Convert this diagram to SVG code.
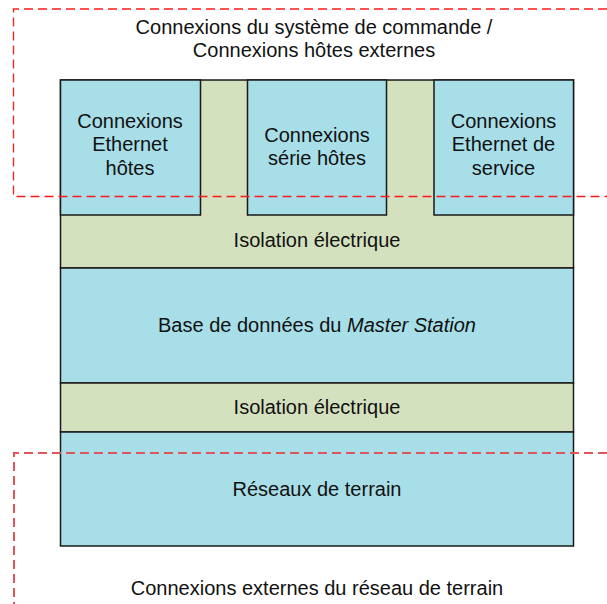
<svg xmlns="http://www.w3.org/2000/svg" width="607" height="604" viewBox="0 0 607 604">
<style>
text{font-family:"Liberation Sans",Arial,sans-serif;font-size:20px;fill:#111;text-anchor:middle}
.blue{fill:#A7DEE8;stroke:#1a1a1a;stroke-width:1.5}
.green{fill:#D4E1BE;stroke:#1a1a1a;stroke-width:1.5}
.dash1{fill:none;stroke:#FF1A1A;stroke-width:1.3;stroke-dasharray:9 5}
.dash2{fill:none;stroke:#E0555B;stroke-width:2;stroke-dasharray:9 5}
</style>
<rect width="607" height="604" fill="#fff"/>
<g id="green-bg"><rect class="green" x="60.5" y="80" width="513" height="188"/></g>
<g id="iso1"><text x="317" y="247">Isolation électrique</text></g>
<g id="host-eth"><rect class="blue" x="60.5" y="80" width="140" height="135"/>
<text x="130" y="128">Connexions</text><text x="130" y="151">Ethernet</text><text x="130" y="175">hôtes</text></g>
<g id="host-serial"><rect class="blue" x="247.5" y="80" width="139" height="135"/>
<text x="317" y="142">Connexions</text><text x="317" y="165">série hôtes</text></g>
<g id="service-eth"><rect class="blue" x="434" y="80" width="139.5" height="135"/>
<text x="503.5" y="128">Connexions</text><text x="503.5" y="151">Ethernet de</text><text x="503.5" y="175">service</text></g>
<g id="database"><rect class="blue" x="60.5" y="268" width="513" height="115"/>
<text x="317" y="332">Base de données du <tspan font-style="italic">Master Station</tspan></text></g>
<g id="iso2"><rect class="green" x="60.5" y="383" width="513" height="49"/>
<text x="317" y="414">Isolation électrique</text></g>
<g id="fieldbus"><rect class="blue" x="60.5" y="432" width="513" height="114"/>
<text x="317" y="496">Réseaux de terrain</text></g>
<g id="zones">
<path class="dash1" d="M607 9H13.5V196.5H607"/>
<path class="dash2" d="M607 453H14V604"/>
</g>
<g id="labels">
<text x="314" y="34">Connexions du système de commande /</text>
<text x="314" y="57">Connexions hôtes externes</text>
<text x="317" y="595">Connexions externes du réseau de terrain</text>
</g>
</svg>
